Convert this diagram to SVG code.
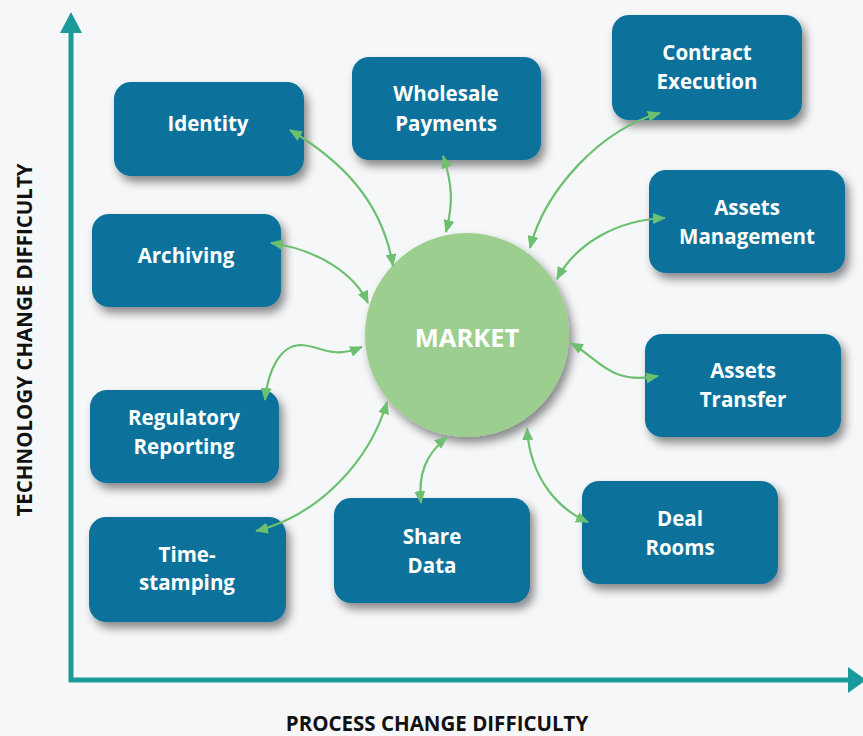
<svg xmlns="http://www.w3.org/2000/svg" width="863" height="736" viewBox="0 0 863 736">
<defs>
<style>
.box{fill:#11729b;filter:url(#sh)}
.lbl{fill:#ffffff;font-family:"Open Sans","Liberation Sans",sans-serif;font-weight:bold;font-size:20.5px;text-anchor:middle}
.con{fill:none;stroke:#6cc070;stroke-width:2.2;marker-start:url(#ah);marker-end:url(#ah)}
.axis{stroke:#1a9a9a;stroke-width:5;fill:none}
.ax{fill:#111111;font-family:"Open Sans","Liberation Sans",sans-serif;font-weight:bold;font-size:20.5px;text-anchor:middle}
</style>
<filter id="sh" x="-20%" y="-20%" width="150%" height="160%">
<feDropShadow dx="4" dy="6" stdDeviation="5" flood-color="#000" flood-opacity="0.45"/>
</filter>
<marker id="ah" viewBox="0 0 13 11" refX="12" refY="5.5" markerWidth="13" markerHeight="11" markerUnits="userSpaceOnUse" orient="auto-start-reverse">
<path d="M0,0 L13,5.5 L0,11 Z" fill="#6cc070"/>
</marker>
</defs>
<rect width="863" height="736" fill="#f6f7f9"/>
<g id="axes">
<line class="axis" x1="71" y1="30" x2="71" y2="682"/>
<polygon points="60,33 71,12 82,33" fill="#1a9a9a"/>
<line class="axis" x1="69" y1="680" x2="848" y2="680"/>
<polygon points="848,667 866,680 848,693" fill="#1a9a9a"/>
<text class="ax" transform="translate(32,340) rotate(-90)">TECHNOLOGY CHANGE DIFFICULTY</text>
<text class="ax" x="437" y="731">PROCESS CHANGE DIFFICULTY</text>
</g>
<g id="market">
<circle cx="467" cy="335" r="102" fill="#9ccf8f" filter="url(#sh)"/>
<text class="lbl" x="467" y="347" style="font-size:25.5px">MARKET</text>
</g>
<g id="identity"><rect class="box" x="114" y="82" width="190" height="94" rx="17"/><text class="lbl" x="208" y="131">Identity</text></g>
<g id="wholesale"><rect class="box" x="352" y="57" width="189" height="103" rx="17"/><text class="lbl" x="446" y="101">Wholesale</text><text class="lbl" x="446" y="131">Payments</text></g>
<g id="contract"><rect class="box" x="612" y="15" width="190" height="105" rx="17"/><text class="lbl" x="707" y="60">Contract</text><text class="lbl" x="707" y="89">Execution</text></g>
<g id="archiving"><rect class="box" x="92" y="214" width="189" height="93" rx="17"/><text class="lbl" x="186" y="263">Archiving</text></g>
<g id="assets-management"><rect class="box" x="649" y="170" width="196" height="103" rx="17"/><text class="lbl" x="747" y="215">Assets</text><text class="lbl" x="747" y="244">Management</text></g>
<g id="regulatory"><rect class="box" x="90" y="390" width="189" height="93" rx="17"/><text class="lbl" x="184" y="425">Regulatory</text><text class="lbl" x="184" y="454">Reporting</text></g>
<g id="assets-transfer"><rect class="box" x="645" y="334" width="196" height="103" rx="17"/><text class="lbl" x="743" y="378">Assets</text><text class="lbl" x="743" y="407">Transfer</text></g>
<g id="timestamping"><rect class="box" x="89" y="517" width="197" height="105" rx="17"/><text class="lbl" x="187" y="562">Time-</text><text class="lbl" x="187" y="590">stamping</text></g>
<g id="share-data"><rect class="box" x="334" y="498" width="196" height="105" rx="17"/><text class="lbl" x="432" y="544">Share</text><text class="lbl" x="432" y="573">Data</text></g>
<g id="deal-rooms"><rect class="box" x="582" y="481" width="196" height="103" rx="17"/><text class="lbl" x="680" y="526">Deal</text><text class="lbl" x="680" y="555">Rooms</text></g>
<g id="connectors">
<path class="con" d="M290 130 C340 160 382 200 393 266"/>
<path class="con" d="M443 156 C453 185 453 205 446 232"/>
<path class="con" d="M660 113 C600 130 545 190 530 248"/>
<path class="con" d="M665 218 C615 220 575 245 557 279"/>
<path class="con" d="M271 243 C320 250 355 275 368 303"/>
<path class="con" d="M362 347 C330 360 320 345 300 345 C280 346 268 370 265 400"/>
<path class="con" d="M387 402 C370 460 320 515 256 531"/>
<path class="con" d="M447 437 C425 455 418 475 421 503"/>
<path class="con" d="M527 428 C530 480 560 510 588 522"/>
<path class="con" d="M571 343 C600 360 610 385 658 376"/>
</g>
</svg>
